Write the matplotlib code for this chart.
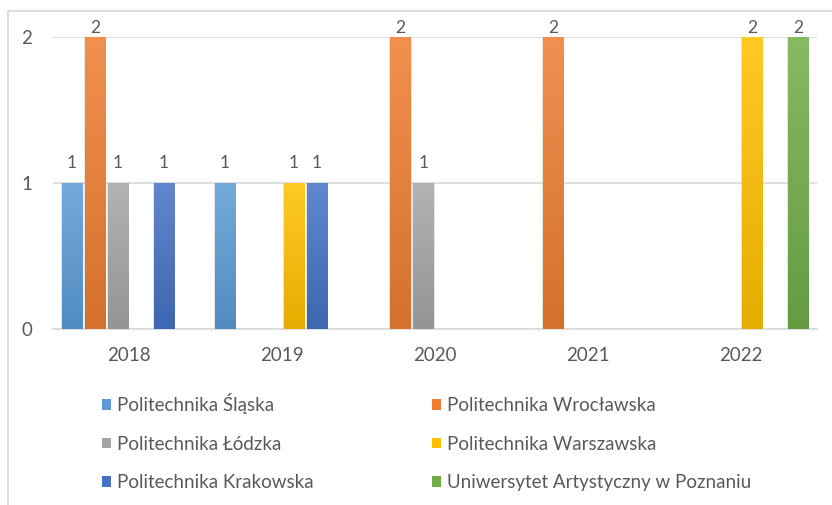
import numpy as np
import matplotlib.pyplot as plt
from matplotlib.colors import to_rgb
from matplotlib.lines import Line2D

plt.rcParams['font.family'] = ['Lato', 'DejaVu Sans']

# dane
years = ['2018', '2019', '2020', '2021', '2022']
series_names = ['Politechnika Śląska', 'Politechnika Wrocławska', 'Politechnika Łódzka',
                'Politechnika Warszawska', 'Politechnika Krakowska',
                'Uniwersytet Artystyczny w Poznaniu']
slaska = [1, 1, 0, 0, 0]
wroclawska = [2, 0, 2, 2, 0]
lodzka = [1, 0, 1, 0, 0]
warszawska = [0, 1, 0, 0, 2]
krakowska = [1, 1, 0, 0, 0]
uniwersytet = [0, 0, 0, 0, 2]
values = [slaska, wroclawska, lodzka, warszawska, krakowska, uniwersytet]
colors = ['#5B9BD5', '#ED7D31', '#A5A5A5', '#FFC000', '#4472C4', '#70AD47']

txt = '#595959'
grid = '#D9D9D9'

fig = plt.figure(figsize=(8.32, 5.05), dpi=100)
ax = fig.add_axes([53 / 832, 1 - 329 / 505, 764 / 832, 292 / 505])

x = np.arange(len(years))
pitch = 0.1505
width = 0.131


def shade(c, f):
    r = np.array(to_rgb(c))
    if f > 0:
        return r + (1 - r) * f
    return r * (1 + f)


handles = []
for i, (vals, c) in enumerate(zip(values, colors)):
    pos = x + (i - 2.5) * pitch
    # cien
    ax.bar(pos, vals, width=width + 0.014, color='#7f7f7f', alpha=0.2, zorder=2)
    bars = ax.bar(pos, vals, width=width, color=c, zorder=3, label=series_names[i])
    top = shade(c, 0.15)
    bot = shade(c, -0.1)
    grad = np.linspace(0, 1, 64)[:, None, None]
    img = top[None, None, :] * (1 - grad) + bot[None, None, :] * grad
    for b, v in zip(bars, vals):
        if v > 0:
            ax.imshow(img, extent=[b.get_x(), b.get_x() + b.get_width(), 0, v],
                      aspect='auto', zorder=4, origin='upper')
            off = 0.5 if v == 2 else 9
            ax.annotate(str(v), (b.get_x() + b.get_width() / 2, v), xytext=(0, off),
                        textcoords='offset points', ha='center', va='bottom',
                        fontsize=12.5, color=txt)
    handles.append(bars)

ax.set_xlim(-0.5, 4.5)
ax.set_ylim(0, 2)
ax.set_yticks([0, 1, 2])
ax.set_xticks(x)
ax.set_xticklabels(years)
ax.tick_params(axis='both', length=0, labelsize=13.5, labelcolor=txt)
ax.tick_params(axis='y', pad=15)
ax.tick_params(axis='x', pad=13)
ax.yaxis.grid(True, color=grid, lw=1.2, zorder=0)
ax.set_axisbelow(True)
for s in ['top', 'right', 'left']:
    ax.spines[s].set_visible(False)
ax.spines['bottom'].set_color(grid)
ax.spines['bottom'].set_linewidth(1.2)

# legenda wierszami
order = [0, 2, 4, 1, 3, 5]
leg = fig.legend([handles[k] for k in order], [series_names[k] for k in order],
                 ncol=2, loc='upper left', bbox_to_anchor=(102 / 832, 1 - 393 / 505),
                 frameon=False, fontsize=13.5, labelcolor=txt, handlelength=0.5,
                 handleheight=0.5, handletextpad=0.3, columnspacing=6.3,
                 labelspacing=1.15, borderpad=0, borderaxespad=0)

# ramka wykresu
fig.add_artist(Line2D([8 / 832, 8 / 832], [0, 1 - 11 / 505], color=grid, lw=1.2))
fig.add_artist(Line2D([8 / 832, 1], [1 - 11 / 505, 1 - 11 / 505], color=grid, lw=1.2))

fig.savefig('out.png', dpi=100, facecolor='white')
